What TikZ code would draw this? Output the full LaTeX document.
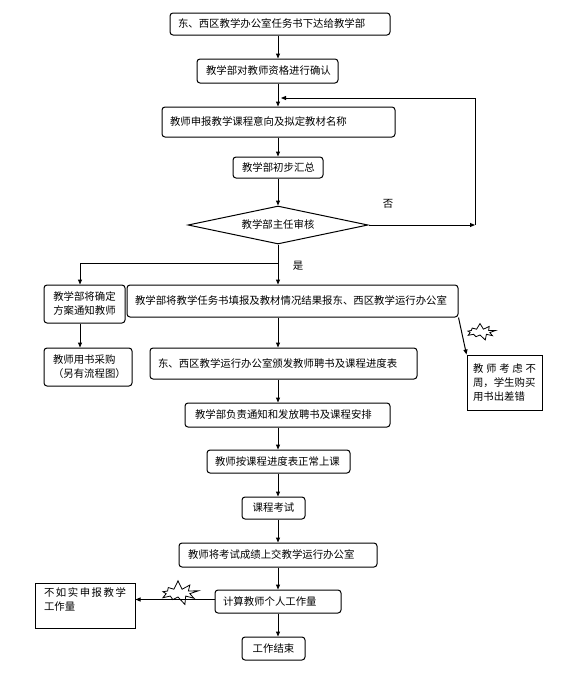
\documentclass[tikz,border=0pt]{standalone}
\usepackage{fontspec}
\newfontfamily\cjk{Noto Sans CJK SC}
\usetikzlibrary{arrows.meta,shapes.geometric,shapes.symbols}
\begin{document}
\begin{tikzpicture}[x=1pt,y=-1pt,
  every node/.style={font=\cjk\fontsize{10.4pt}{14pt}\selectfont},
  rb/.style={draw, rounded corners=3pt, line width=1pt, inner xsep=8pt, inner ysep=0pt, align=left},
  sq/.style={draw, line width=1pt, inner ysep=0pt, align=left},
  arr/.style={-{Triangle[length=5pt,width=4pt]}, line width=1pt},
  burst/.style={starburst, draw, line width=0.8pt, inner sep=0pt, starburst points=9, random starburst=7}]
\useasboundingbox (0,0) rectangle (562,688);
\coordinate (ax) at (278,0);
\coordinate (lx) at (80,0);
% boxes
\node[rb, minimum height=22pt, text width=204pt] (b1) at (280,24) {东、西区教学办公室任务书下达给教学部};
\node[rb, minimum height=24pt, text width=123pt, inner xsep=9pt] (b2) at (267.5,71) {教学部对教师资格进行确认};
\node[rb, minimum height=30pt, text width=217pt] (b3) at (278.5,122) {教师申报教学课程意向及拟定教材名称};
\node[rb, minimum height=21pt, text width=72pt, inner xsep=9pt] (b4) at (278,167.5) {教学部初步汇总};
\node[diamond, draw, line width=1pt, aspect=4.7, inner sep=0pt, minimum width=180pt, minimum height=38pt] (d) at (278,225) {教学部主任审核};
\node[rb, minimum height=38pt, text width=65pt, align=center] (b6) at (84.5,304) {教学部将确定\\方案通知教师};
\node[rb, minimum height=32pt, text width=315pt] (b5) at (292.5,301) {教学部将教学任务书填报及教材情况结果报东、西区教学运行办公室};
\node[rb, minimum height=38pt, text width=70pt, inner xsep=9pt] (b8) at (88,367) {教师用书采购\\（另有流程图）};
\node[rb, minimum height=31pt, text width=251pt] (b7) at (283.5,363.5) {东、西区教学运行办公室颁发教师聘书及课程进度表};
\node[sq, minimum height=55pt, text width=63pt, inner xsep=6pt] (b10) at (504.5,382.5) {\hbox to 63pt{教\hfill 师\hfill 考\hfill 虑\hfill 不}\\周，学生购买\\用书出差错};
\node[rb, minimum height=24pt, text width=185pt, inner xsep=10pt] (b9) at (287.5,415) {教学部负责通知和发放聘书及课程安排};
\node[rb, minimum height=23pt, text width=127pt] (b11) at (278.5,461.5) {教师按课程进度表正常上课};
\node[rb, minimum height=22pt, text width=47pt, align=center] (b12) at (273.5,508) {课程考试};
\node[rb, minimum height=24pt, text width=180pt, inner xsep=9pt] (b13) at (278,555) {教师将考试成绩上交教学运行办公室};
\node[rb, minimum height=23pt, text width=110pt] (b14) at (278,601.5) {计算教师个人工作量};
\node[rb, minimum height=23pt, text width=47pt, align=center] (b15) at (273.5,648.5) {工作结束};
\node[sq, minimum height=45pt, text width=82pt, inner xsep=9pt, text depth=27pt] (b16) at (85,605.5) {\hbox to 82pt{不\hfill 如\hfill 实\hfill 申\hfill 报\hfill 教\hfill 学}\\工作量};
% labels
\node (no) at (388,204) {否};
\node (yes) at (298,266) {是};
% bursts
\node[burst, minimum width=42pt, minimum height=26pt, starburst point height=9pt] (s1) at (178,593) {};
\node[burst, minimum width=32pt, minimum height=18pt, starburst point height=6pt] (s2) at (480,332) {};
% connectors
\draw[arr] (b1.south -| ax) -- (b2.north -| ax);
\draw[arr] (b2.south -| ax) -- (b3.north -| ax);
\draw[arr] (b3.south -| ax) -- (b4.north -| ax);
\draw[arr] (b4.south -| ax) -- (d.north);
\coordinate (fr) at (475,225);
\coordinate (ft) at (475,98);
\coordinate (fe) at (281,98);
\draw[arr] (d.east) -- (fr);
\draw[arr] (fr) -- (ft) -- (fe);
\draw[arr] (d.south) -- (b5.north -| ax);
\coordinate (br) at (278,263);
\draw[arr] (br) -| (b6.north -| lx);
\draw[arr] (b6.south -| lx) -- (b8.north -| lx);
\draw[arr] (b5.south -| ax) -- (b7.north -| ax);
\draw[arr] (b5.south east) -- (b10.north west);
\draw[arr] (b7.south -| ax) -- (b9.north -| ax);
\draw[arr] (b9.south -| ax) -- (b11.north -| ax);
\draw[arr] (b11.south -| ax) -- (b12.north -| ax);
\draw[arr] (b12.south -| ax) -- (b13.north -| ax);
\draw[arr] (b13.south -| ax) -- (b14.north -| ax);
\draw[arr] (b14.south -| ax) -- (b15.north -| ax);
\draw[arr] ([yshift=2pt]b14.west) -- ([yshift=2pt]b14.west -| b16.east);
\end{tikzpicture}
\end{document}
